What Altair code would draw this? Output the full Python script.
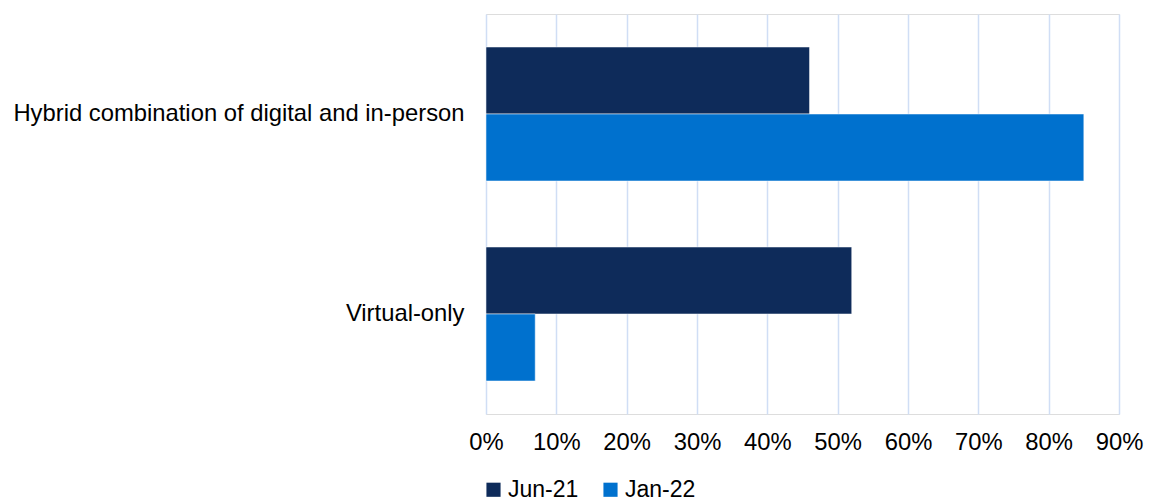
import altair as alt
import pandas as pd

categories = ["Hybrid combination of digital and in-person", "Virtual-only"]
series = ["Jun-21", "Jan-22"]
jun21 = [0.46, 0.52]
jan22 = [0.85, 0.07]
colors = ["#0E2B5A", "#0071CE"]
x_ticks = [0.0, 0.1, 0.2, 0.3, 0.4, 0.5, 0.6, 0.7, 0.8, 0.9]

rows = []
for i, c in enumerate(categories):
    rows.append({"category": c, "series": series[0], "value": jun21[i]})
    rows.append({"category": c, "series": series[1], "value": jan22[i]})
df = pd.DataFrame(rows)

FONT = "Liberation Sans"
FS = 23.8

chart = alt.Chart(df).mark_bar(
    stroke="white", strokeOpacity=0.5, strokeWidth=1
).encode(
    y=alt.Y(
        "category:N", sort=categories, title=None,
        scale=alt.Scale(paddingInner=0.33, paddingOuter=0.165),
        axis=alt.Axis(domain=False, ticks=False, grid=False, labelFontSize=FS,
                      labelPadding=22, labelColor="#000000", labelFont=FONT,
                      labelLimit=700),
    ),
    yOffset=alt.YOffset("series:N", sort=series,
                        scale=alt.Scale(paddingInner=0, paddingOuter=0)),
    x=alt.X(
        "value:Q", title=None,
        scale=alt.Scale(domain=[0, 0.9], nice=False, zero=True),
        axis=alt.Axis(format=".0%", values=x_ticks, domain=False, ticks=False,
                      grid=True, gridColor="#D0DEF5", gridWidth=1.5,
                      labelFontSize=FS, labelPadding=16, labelColor="#000000",
                      labelFont=FONT, labelFlush=False, labelOverlap=False),
    ),
    color=alt.Color(
        "series:N", sort=series,
        scale=alt.Scale(domain=series, range=colors),
        legend=alt.Legend(title=None, orient="none", legendX=-4, legendY=464,
                          direction="horizontal", symbolType="square",
                          symbolSize=200, symbolStrokeWidth=0,
                          labelFontSize=23, labelFont=FONT, labelColor="#000000",
                          columnPadding=20, labelOffset=3),
    ),
).properties(
    width=633, height=400,
    autosize=alt.AutoSizeParams(type="none"),
    padding={"left": 486, "top": 14, "right": 30, "bottom": 90},
).configure_view(stroke=None).configure(font=FONT, background="white")

chart.save("out.html", embed_options={"renderer": "svg", "actions": False})
